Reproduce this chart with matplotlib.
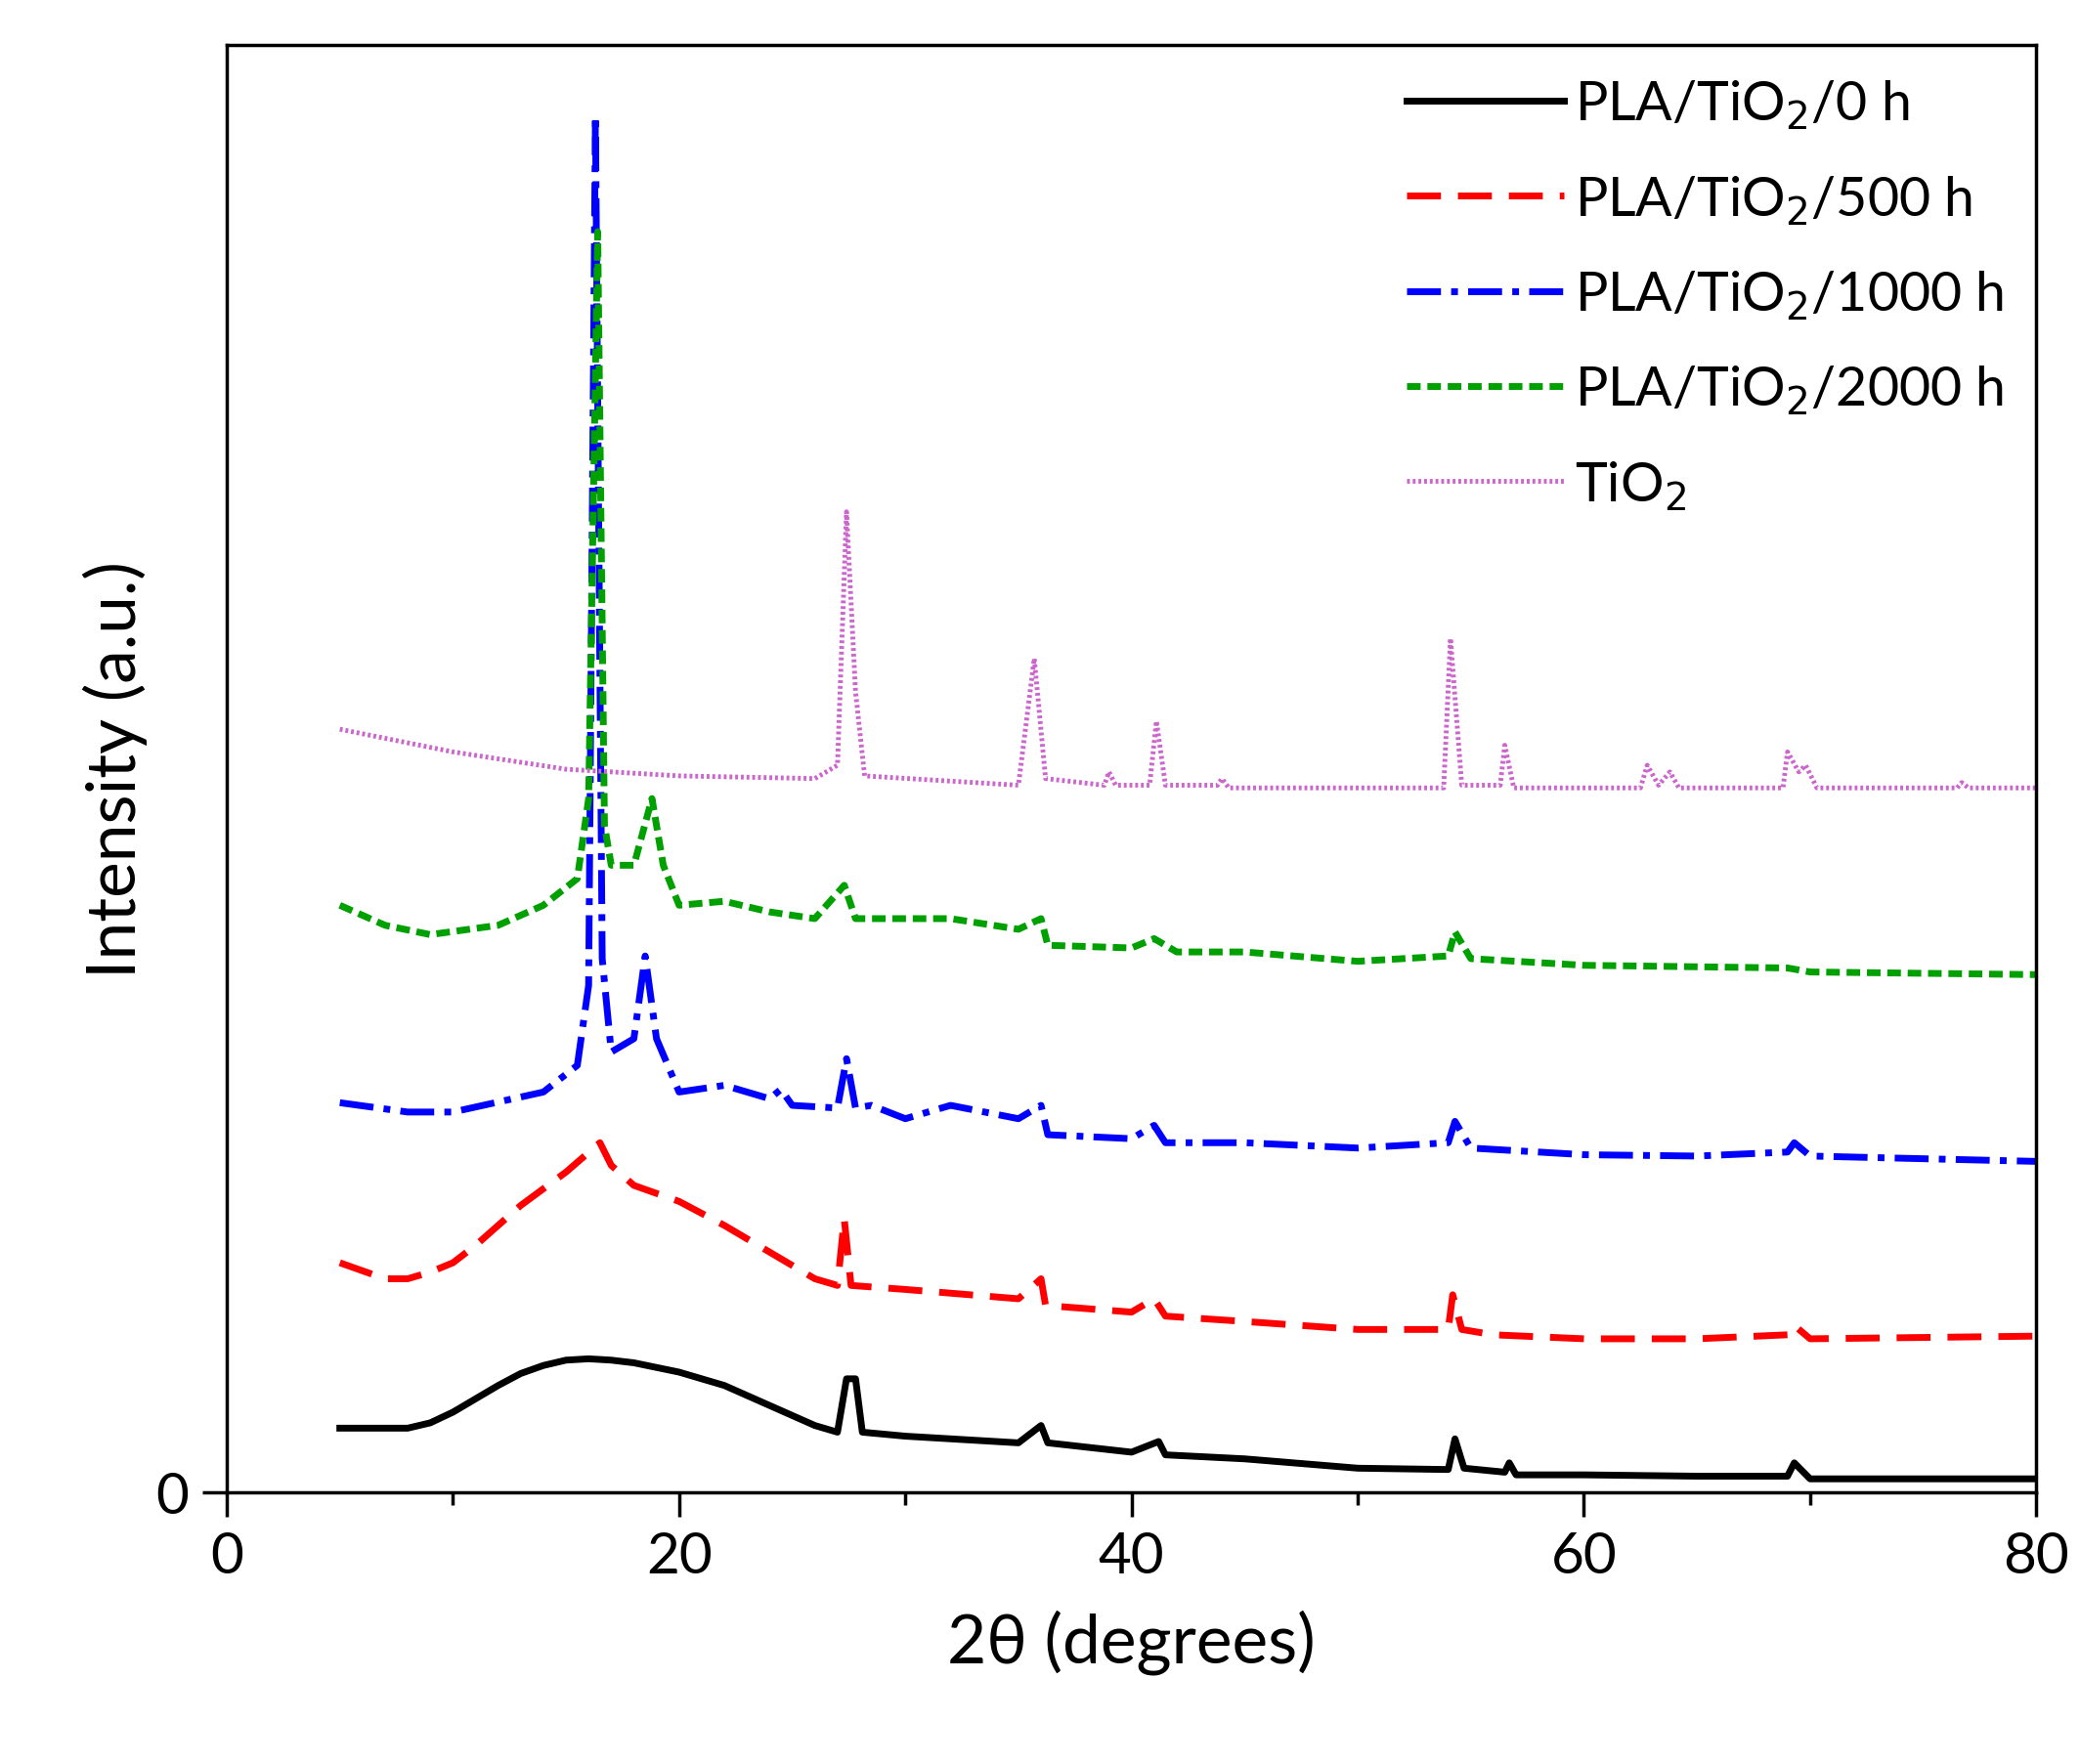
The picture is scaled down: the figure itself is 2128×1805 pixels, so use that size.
import matplotlib.pyplot as plt

plt.rcParams['font.family'] = ['Lato', 'DejaVu Sans']

# keypoints (x = 2theta, y = intensity, arbitrary units)
x_0h = [5, 8, 9, 10, 11, 12, 13, 14, 15, 16, 17, 18, 20, 22, 24, 26, 27, 27.4, 27.8, 28.1, 30, 35, 36, 36.3,
        40, 41.2, 41.5, 45, 50, 54, 54.3, 54.7, 56.5, 56.7, 57, 60, 65, 69, 69.3, 70, 80]
y_0h = [48, 48, 52, 60, 70, 80, 89, 95, 99, 100, 99, 97, 90, 80, 65, 50, 45, 85, 85, 45, 42, 37, 50, 37,
        30, 38, 28, 25, 18, 17, 40, 18, 15, 22, 13, 13, 12, 12, 22, 10, 10]

x_500h = [5, 7, 8, 9, 10, 11, 13, 15, 16.5, 17, 18, 20, 22, 24, 26, 27, 27.3, 27.6, 30, 35, 36, 36.2,
          40, 41, 41.5, 45, 50, 54, 54.2, 54.6, 56, 60, 65, 69, 69.3, 70, 80]
y_500h = [172, 160, 160, 165, 172, 185, 215, 240, 262, 245, 230, 218, 200, 180, 160, 155, 205, 155, 152, 145, 160, 140,
          135, 145, 132, 128, 122, 122, 148, 122, 118, 115, 115, 118, 125, 115, 117]

x_1000h = [5, 8, 10, 14, 15.5, 16, 16.3, 16.6, 17, 18, 18.5, 19, 20, 22, 24, 24.5, 25, 27, 27.4, 27.8,
           28.5, 30, 32, 35, 36, 36.3, 40, 41, 41.5, 45, 50, 54, 54.3, 55, 60, 65, 69, 69.3, 70, 80]
y_1000h = [292, 285, 285, 300, 320, 380, 1032, 400, 330, 340, 402, 340, 300, 305, 295, 302, 290, 288, 325, 288,
           290, 280, 290, 280, 290, 268, 265, 275, 262, 262, 258, 262, 278, 258, 253, 252, 255, 262, 252, 248]

x_2000h = [5, 7, 9, 12, 14, 15.5, 16, 16.4, 16.7, 17, 18, 18.8, 19.3, 20, 22, 24, 26, 27.3, 27.8, 29,
           32, 35, 36, 36.3, 40, 41, 42, 45, 50, 54, 54.3, 55, 60, 69, 70, 80]
y_2000h = [440, 425, 418, 425, 440, 460, 520, 945, 500, 470, 470, 520, 470, 440, 443, 435, 430, 455, 430, 430,
           430, 422, 430, 410, 408, 415, 405, 405, 398, 402, 420, 400, 395, 393, 390, 388]

x_tio2 = [5, 10, 15, 20, 26, 27, 27.4, 27.8, 28.2, 35, 35.7, 36.2, 38.8, 39, 39.3, 40.8, 41.1, 41.5,
          43.8, 44, 44.3, 53.8, 54.1, 54.6, 56.3, 56.5, 56.9, 62.5, 62.8, 63.3, 63.8, 64.2, 68.8, 69,
          69.5, 69.8, 70.3, 76.5, 76.7, 77, 80]
y_tio2 = [572, 555, 542, 537, 535, 545, 735, 600, 537, 530, 625, 535, 530, 540, 530, 530, 578, 530,
          530, 535, 528, 528, 640, 530, 530, 560, 528, 528, 545, 530, 540, 528, 528, 555,
          540, 545, 528, 528, 532, 528, 528]

fig = plt.figure(figsize=(21.28, 18.06), dpi=100)
ax = fig.add_axes([0.109, 0.154, 0.870, 0.820])

lw = 5
ax.plot(x_0h, y_0h, color='black', lw=lw, label='PLA/TiO$_2$/0 h')
ax.plot(x_500h, y_500h, color='red', lw=lw, ls=(0, (5, 2.5)), label='PLA/TiO$_2$/500 h')
ax.plot(x_1000h, y_1000h, color='blue', lw=lw, ls=(0, (5, 1.5, 1, 1.5)), label='PLA/TiO$_2$/1000 h')
ax.plot(x_2000h, y_2000h, color='#00a000', lw=lw, ls=(0, (2, 1)), label='PLA/TiO$_2$/2000 h')
ax.plot(x_tio2, y_tio2, color='#cc66cc', lw=lw - 1.5, ls=(0, (0.6, 0.6)), label='TiO$_2$')

ax.set_xlim(0, 80)
ax.set_ylim(0, 1085)
ax.set_xticks([0, 20, 40, 60, 80])
ax.set_xticks([10, 30, 50, 70], minor=True)
ax.set_yticks([0])
ax.tick_params(axis='both', which='major', labelsize=42, length=18, width=2.5, direction='out', pad=10)
ax.tick_params(axis='x', which='minor', length=9, width=2.5, direction='out')
for s in ax.spines.values():
    s.set_linewidth(2.5)

ax.set_xlabel('2θ (degrees)', fontsize=50, labelpad=20)
ax.set_ylabel('Intensity (a.u.)', fontsize=50, labelpad=6)

ax.legend(loc='upper right', frameon=False, fontsize=40, handlelength=2.9,
          handletextpad=0.2, labelspacing=0.78, borderaxespad=0.2)

fig.savefig('out.png', dpi=100)
